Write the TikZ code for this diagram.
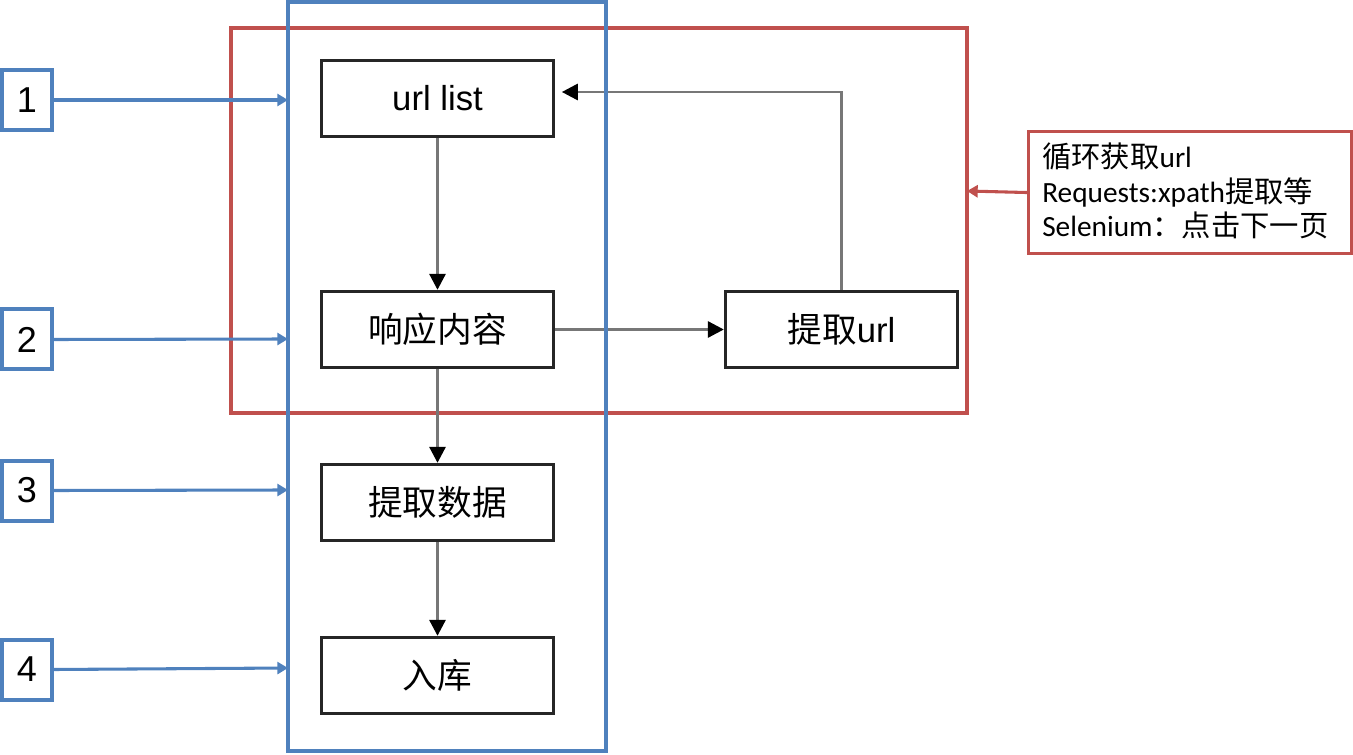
\documentclass[tikz,border=0pt]{standalone}
\usepackage{fontspec}
\setmainfont{Liberation Sans}
\newfontfamily\cjk{Noto Sans CJK SC}
\newfontfamily\notefont{Carlito}
\usetikzlibrary{arrows.meta,positioning}
\definecolor{myblue}{HTML}{4F81BD}
\definecolor{myred}{HTML}{C0504D}
\definecolor{lgray}{HTML}{777777}
\definecolor{bdr}{HTML}{262626}
\tikzset{
  flowbox/.style={draw=bdr, line width=2.5pt, fill=white, minimum width=174pt, minimum height=57pt, inner sep=0pt, font=\fontsize{26}{30}\selectfont},
  numbox/.style={draw=myblue, line width=3pt, fill=white, minimum width=37pt, minimum height=45pt, inner sep=0pt, font=\fontsize{27}{30}\selectfont},
  flowarrow/.style={draw=lgray, line width=2.2pt, -{Triangle[length=12pt,width=12pt,fill=black,color=black]}},
  bluearrow/.style={draw=myblue, line width=2.3pt, -{Triangle[length=8pt,width=9pt]}},
  redarrow/.style={draw=myred, line width=2.3pt, -{Triangle[length=8pt,width=9pt]}},
}
\begin{document}
\begin{tikzpicture}[x=0.75pt,y=-0.75pt]
\useasboundingbox (0,0) rectangle (1353,755);
% red frame
\draw[myred, line width=2.3pt] (231,28) rectangle (967,413);
\coordinate (redR) at (967,191);
% flow nodes
\node[flowbox] (url) at (437.5,98.5) {url list};
\node[flowbox] (resp) at (437.5,329.5) {{\cjk 响应内容}};
\node[flowbox] (ext) at (841.5,329.5) {{\cjk 提取}url};
\node[flowbox] (data) at (437.5,502.5) {{\cjk 提取数据}};
\node[flowbox] (store) at (437.5,675.5) {{\cjk 入库}};
% connectors
\draw[flowarrow] (url.south) -- (resp.north);
\draw[flowarrow] (resp.east) -- (ext.west);
\draw[flowarrow] (ext.north) |- ([xshift=5pt]url.east |- 0,92);
\draw[flowarrow] (resp.south) -- (data.north);
\draw[flowarrow] (data.south) -- (store.north);
% blue frame
\draw[myblue, line width=2.3pt] (288,2) rectangle (606,751);
\coordinate (b1) at (288,100);
\coordinate (b2) at (288,339);
\coordinate (b3) at (288,490);
\coordinate (b4) at (288,668);
% number boxes
\node[numbox] (n1) at (27,100) {1};
\node[numbox] (n2) at (27,339.5) {2};
\node[numbox] (n3) at (27,490.5) {3};
\node[numbox] (n4) at (27,669.5) {4};
\draw[bluearrow] (n1.east) -- (b1);
\draw[bluearrow] (n2.east) -- (b2);
\draw[bluearrow] (n3.east) -- (b3);
\draw[bluearrow] (n4.east) -- (b4);
% note
\node[draw=myred, line width=2.3pt, fill=white, minimum width=242pt, minimum height=91.5pt, inner sep=0pt, anchor=north west] (note) at (1027,130) {};
\node[anchor=west, align=left, inner sep=0pt, font=\fontsize{22}{26}\notefont] (notetxt) at (1042,191) {{\cjk 循环获取}url\\Requests:xpath{\cjk 提取等}\\Selenium{\cjk ：点击下一页}};
\draw[redarrow] (note.west) -- (redR);
\end{tikzpicture}
\end{document}
